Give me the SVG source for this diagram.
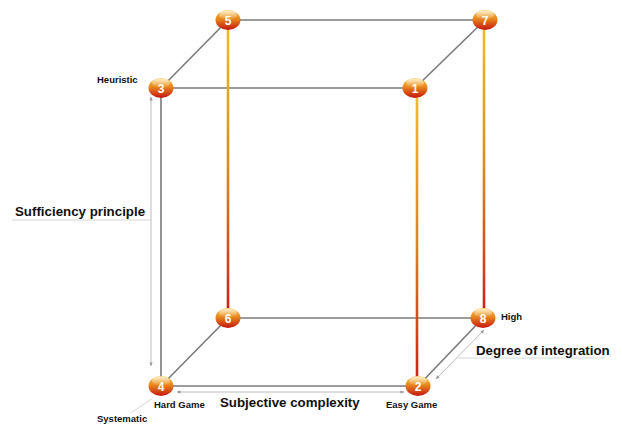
<svg xmlns="http://www.w3.org/2000/svg" width="622" height="425" viewBox="0 0 622 425">
<defs>
<linearGradient id="vg5" gradientUnits="userSpaceOnUse" x1="0" y1="20" x2="0" y2="318">
<stop offset="0" stop-color="#f0c020"/>
<stop offset="0.5" stop-color="#d88a20"/>
<stop offset="1" stop-color="#d41818"/>
</linearGradient>
<linearGradient id="vg1" gradientUnits="userSpaceOnUse" x1="0" y1="88" x2="0" y2="386">
<stop offset="0" stop-color="#f0c020"/>
<stop offset="0.5" stop-color="#d88a20"/>
<stop offset="1" stop-color="#d41818"/>
</linearGradient>
<linearGradient id="ng" x1="0" y1="0" x2="0" y2="1">
<stop offset="0" stop-color="#f7c444"/>
<stop offset="0.45" stop-color="#e8861c"/>
<stop offset="1" stop-color="#c41410"/>
</linearGradient>
<linearGradient id="hl" x1="0" y1="0" x2="0" y2="1">
<stop offset="0" stop-color="#fff" stop-opacity="0.75"/>
<stop offset="1" stop-color="#fff" stop-opacity="0"/>
</linearGradient>
<marker id="ah" viewBox="0 0 10 10" refX="9" refY="5" markerWidth="5" markerHeight="5" orient="auto-start-reverse">
<path d="M0,1 L10,5 L0,9 z" fill="#999"/>
</marker>
<style>
.e{stroke:#7a7a7a;stroke-width:1.6;fill:none}
.c{stroke-width:2.6;fill:none}
.d{stroke:#aaa;stroke-width:0.8;fill:none;marker-start:url(#ah);marker-end:url(#ah)}
.u{stroke:#ccc;stroke-width:0.8;fill:none}
.nb{fill:url(#ng)}
.nh{fill:url(#hl)}
.nt{font-family:"Liberation Sans",Arial,sans-serif;font-weight:bold;font-size:12px;fill:#fff;text-anchor:middle}
.sl{font-family:"Liberation Sans",Arial,sans-serif;font-weight:bold;font-size:9.5px;fill:#111}
.bl{font-family:"Liberation Sans",Arial,sans-serif;font-weight:bold;font-size:13.3px;fill:#111}
</style>
</defs>
<g id="connectors">
<line class="e" x1="228" y1="20" x2="485" y2="20"/>
<line class="e" x1="161" y1="88" x2="415" y2="88"/>
<line class="e" x1="228" y1="20" x2="161" y2="88"/>
<line class="e" x1="485" y1="20" x2="415" y2="88"/>
<line class="e" x1="161" y1="88" x2="161" y2="386"/>
<line class="e" x1="228" y1="318" x2="483" y2="318"/>
<line class="e" x1="161" y1="386" x2="228" y2="318"/>
<line class="e" x1="418" y1="386" x2="483" y2="318"/>
<line class="e" x1="161" y1="386" x2="418" y2="386"/>
<line class="c" x1="228" y1="20" x2="228" y2="318" stroke="url(#vg5)"/>
<line class="c" x1="417" y1="88" x2="417" y2="386" stroke="url(#vg1)"/>
<line class="c" x1="484" y1="20" x2="484" y2="318" stroke="url(#vg5)"/>
<line class="d" x1="151" y1="97" x2="151" y2="366"/>
<line class="d" x1="177" y1="392" x2="404" y2="392"/>
<line class="d" x1="484" y1="330" x2="436" y2="379"/>
<line class="u" x1="12" y1="220" x2="151" y2="220"/>
<line class="u" x1="458" y1="358" x2="604" y2="358"/>
<line class="u" x1="131" y1="413" x2="153" y2="398"/>
</g>
<g id="n5"><ellipse class="nb" cx="228" cy="20" rx="12.5" ry="10"/><ellipse class="nh" cx="228" cy="15" rx="9" ry="4.5"/><text class="nt" x="228" y="24.5">5</text></g>
<g id="n7"><ellipse class="nb" cx="485" cy="20" rx="12.5" ry="10"/><ellipse class="nh" cx="485" cy="15" rx="9" ry="4.5"/><text class="nt" x="485" y="24.5">7</text></g>
<g id="n3"><ellipse class="nb" cx="161" cy="88" rx="12.5" ry="10"/><ellipse class="nh" cx="161" cy="83" rx="9" ry="4.5"/><text class="nt" x="161" y="92.5">3</text></g>
<g id="n1"><ellipse class="nb" cx="415" cy="88" rx="12.5" ry="10"/><ellipse class="nh" cx="415" cy="83" rx="9" ry="4.5"/><text class="nt" x="415" y="92.5">1</text></g>
<g id="n6"><ellipse class="nb" cx="228" cy="318" rx="12.5" ry="10"/><ellipse class="nh" cx="228" cy="313" rx="9" ry="4.5"/><text class="nt" x="228" y="322.5">6</text></g>
<g id="n8"><ellipse class="nb" cx="483" cy="318" rx="12.5" ry="10"/><ellipse class="nh" cx="483" cy="313" rx="9" ry="4.5"/><text class="nt" x="483" y="322.5">8</text></g>
<g id="n4"><ellipse class="nb" cx="161" cy="386" rx="12.5" ry="10"/><ellipse class="nh" cx="161" cy="381" rx="9" ry="4.5"/><text class="nt" x="161" y="390.5">4</text></g>
<g id="n2"><ellipse class="nb" cx="418" cy="386" rx="12.5" ry="10"/><ellipse class="nh" cx="418" cy="381" rx="9" ry="4.5"/><text class="nt" x="418" y="390.5">2</text></g>
<g id="labels">
<text class="sl" x="97" y="83">Heuristic</text>
<text class="sl" x="154" y="408">Hard Game</text>
<text class="sl" x="386" y="408">Easy Game</text>
<text class="sl" x="501" y="320">High</text>
<text class="sl" x="97" y="422">Systematic</text>
<text class="bl" x="15" y="216">Sufficiency principle</text>
<text class="bl" x="220" y="407">Subjective complexity</text>
<text class="bl" x="476" y="355">Degree of integration</text>
</g>
</svg>
